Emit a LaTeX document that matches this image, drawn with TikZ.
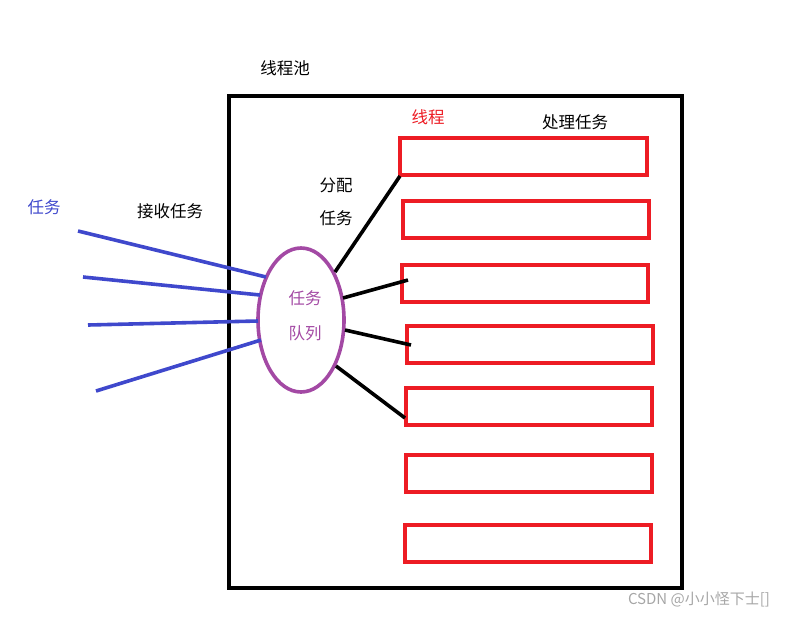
\documentclass[tikz,border=0pt]{standalone}
\usepackage{fontspec}
\newfontfamily\cjk{Noto Sans CJK SC}
\usetikzlibrary{shapes.geometric}
\begin{document}
\begin{tikzpicture}[x=1pt,y=-1pt,font=\cjk\fontsize{16.5}{19}\selectfont]
\definecolor{redColor}{RGB}{237,28,36}
\definecolor{blueColor}{RGB}{63,72,204}
\definecolor{purpleColor}{RGB}{163,73,164}
\tikzset{
  thread/.style={draw=redColor,line width=3.6pt},
  recv/.style={draw=blueColor,line width=3.6pt},
  assign/.style={draw=black,line width=3.6pt}
}
\path[use as bounding box] (0,0) rectangle (805,619);

\draw[line width=4.2pt] (229,96) rectangle (682,588);
\node (pool) at (285,68) {线程池};
\node[text=redColor] (threadlbl) at (428,117) {线程};
\node (work) at (575,122) {处理任务};

\path[thread] (400,138) rectangle (647,175);
\path[thread] (403,201) rectangle (649,238);
\path[thread] (402,265) rectangle (648,302);
\path[thread] (407,326) rectangle (653,363);
\path[thread] (406,388) rectangle (652,425);
\path[thread] (406,455) rectangle (652,492);
\path[thread] (405,525) rectangle (651,562);

\node[ellipse,draw=purpleColor,line width=3.6pt,minimum width=86pt,minimum height=144pt] (queue) at (301,320) {};
\node[text=purpleColor] (q1) at (305,298) {任务};
\node[text=purpleColor] (q2) at (305,333) {队列};

\node[text=blueColor] (task) at (44,207) {任务};
\node (recvlbl) at (170,211) {接收任务};
\coordinate (a1) at (78,231);
\coordinate (a2) at (83,277);
\coordinate (a3) at (88,325);
\coordinate (a4) at (96,391);
\draw[recv] (a1) -- (266,277);
\draw[recv] (a2) -- (260,295);
\draw[recv] (a3) -- (258,321);
\draw[recv] (a4) -- (261,340);

\node (dist1) at (336,185) {分配};
\node (dist2) at (336,218) {任务};
\draw[assign] (335,272) -- (400,176);
\draw[assign] (343,298) -- (408,280);
\draw[assign] (345,330) -- (411,345);
\draw[assign] (336,366) -- (405,418);

\node[text=black!35,font=\cjk\fontsize{15}{17}\selectfont] (mark) at (699,599) {CSDN @小小怪下士[]};
\end{tikzpicture}
\end{document}
